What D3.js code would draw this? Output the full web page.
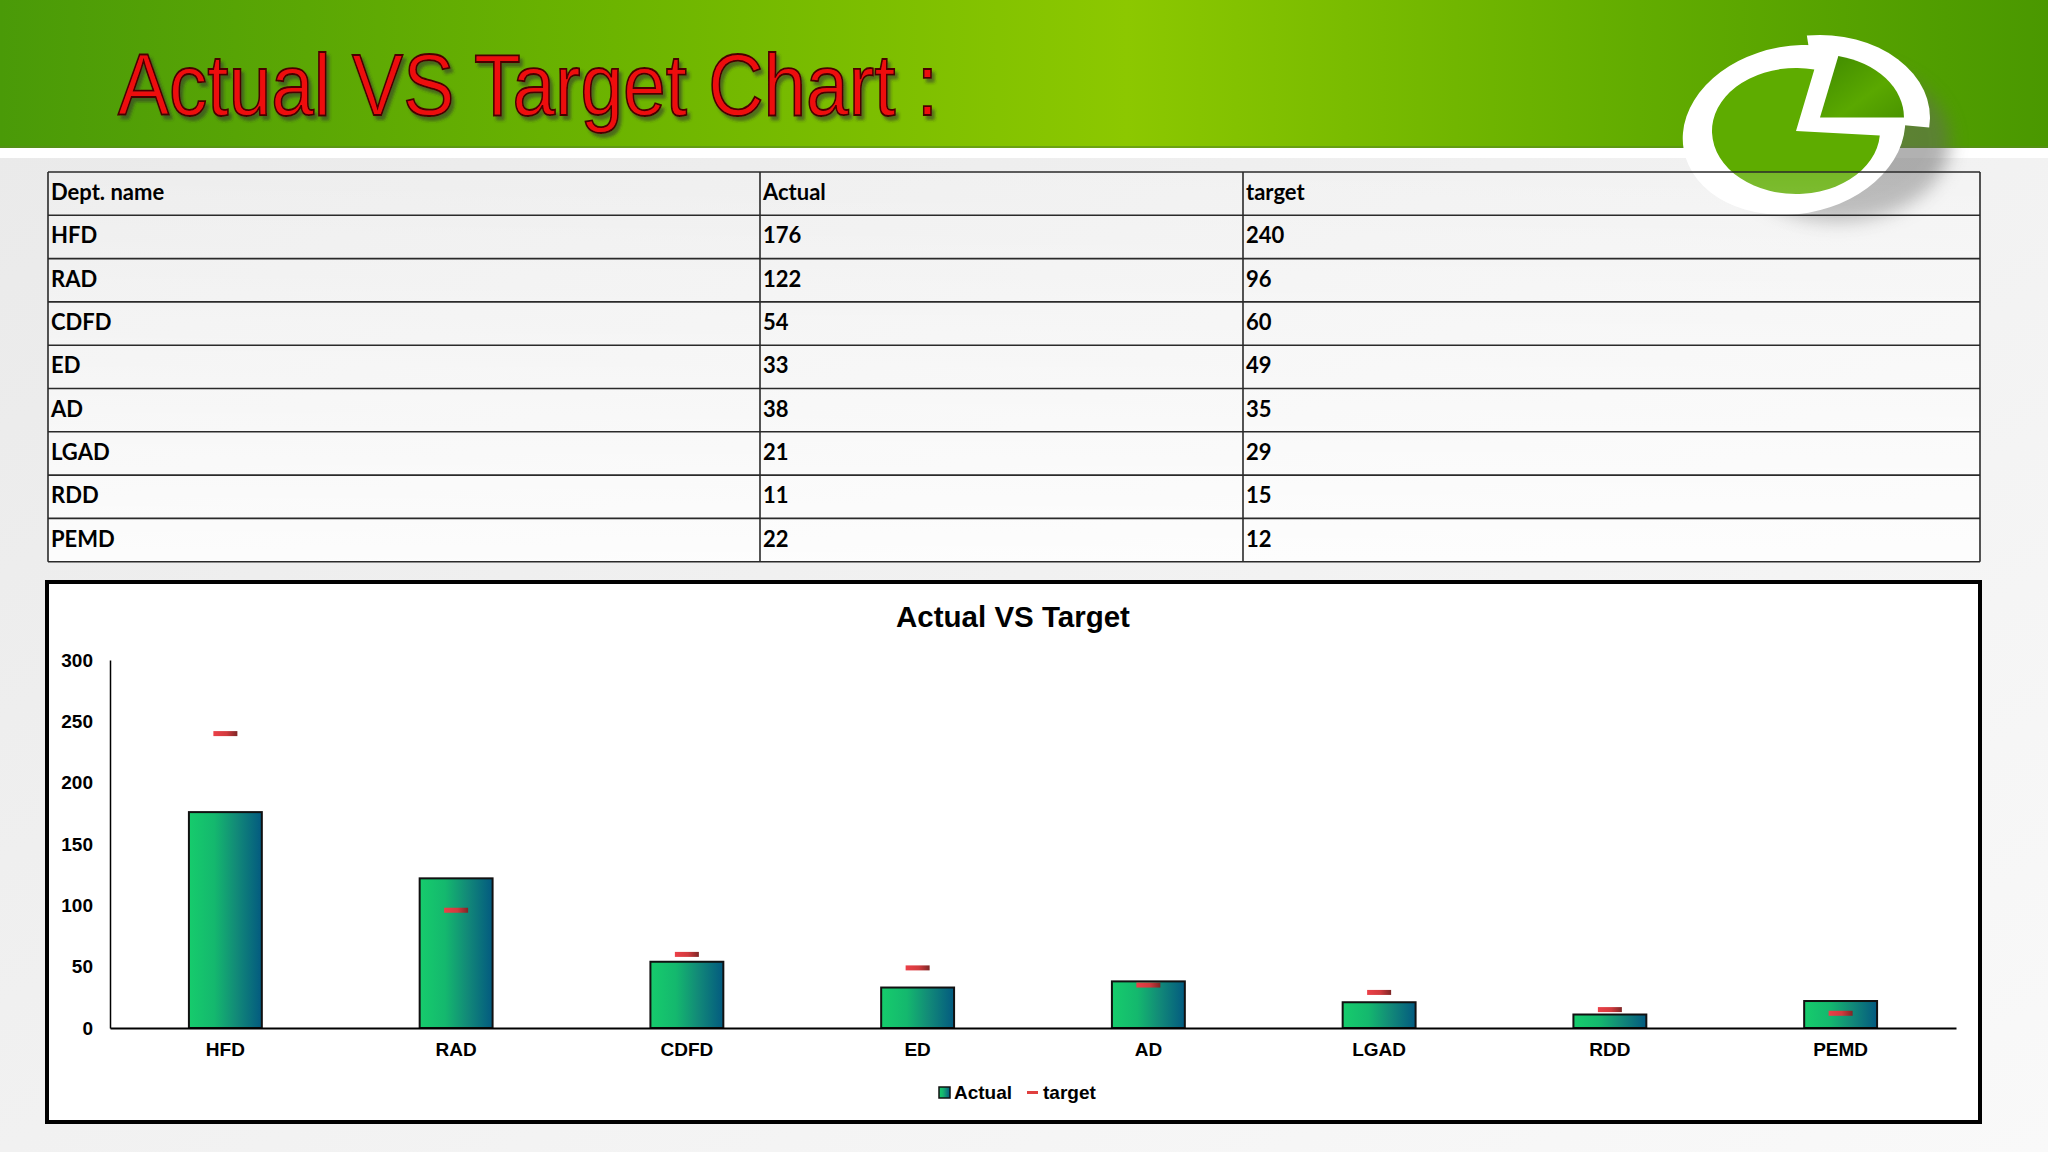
<!DOCTYPE html>
<html><head><meta charset="utf-8">
<script src="https://cdn.jsdelivr.net/npm/d3@7"></script>
<style>html,body{margin:0;padding:0;background:#f2f2f2;}svg{display:block;}</style>
</head><body>
<svg id="c" width="2048" height="1152"></svg>
<script>
const categories = ["HFD","RAD","CDFD","ED","AD","LGAD","RDD","PEMD"];
const actual = [176,122,54,33,38,21,11,22];
const target = [240,96,60,49,35,29,15,12];
const yTicks = [0,50,100,150,200,250,300];
const tableHeader = ["Dept. name","Actual","target"];
const pageTitle = "Actual VS Target Chart :";
const chartTitle = "Actual VS Target";
const seriesNames = ["Actual","target"];

const svg = d3.select("#c");
const defs = svg.append("defs");

// gradients
const bg = defs.append("linearGradient").attr("id","bg").attr("x1",0).attr("y1",0).attr("x2",1).attr("y2",1);
bg.append("stop").attr("offset","0%").attr("stop-color","#e9e9e9");
bg.append("stop").attr("offset","100%").attr("stop-color","#f9f9f9");
const hg = defs.append("linearGradient").attr("id","hg").attr("x1",0).attr("y1",0).attr("x2",1).attr("y2",0);
hg.append("stop").attr("offset","0%").attr("stop-color","#4a9a08");
hg.append("stop").attr("offset","30%").attr("stop-color","#6cb400");
hg.append("stop").attr("offset","55%").attr("stop-color","#8cc800");
hg.append("stop").attr("offset","80%").attr("stop-color","#62ac00");
hg.append("stop").attr("offset","100%").attr("stop-color","#4a9800");
const tbG = defs.append("linearGradient").attr("id","tbG").attr("x1",0).attr("y1",0).attr("x2",0).attr("y2",1);
tbG.append("stop").attr("offset","0%").attr("stop-color","#ffffff").attr("stop-opacity",0.15);
tbG.append("stop").attr("offset","100%").attr("stop-color","#ffffff").attr("stop-opacity",0.85);
const barG = defs.append("linearGradient").attr("id","barG").attr("x1",0).attr("y1",0).attr("x2",1).attr("y2",0);
barG.append("stop").attr("offset","0%").attr("stop-color","#16cc6c");
barG.append("stop").attr("offset","35%").attr("stop-color","#14b86e");
barG.append("stop").attr("offset","65%").attr("stop-color","#128a78");
barG.append("stop").attr("offset","100%").attr("stop-color","#035a80");
const tG = defs.append("linearGradient").attr("id","tG").attr("x1",0).attr("y1",0).attr("x2",1).attr("y2",0);
tG.append("stop").attr("offset","0%").attr("stop-color","#ec4048");
tG.append("stop").attr("offset","55%").attr("stop-color","#d23a3e");
tG.append("stop").attr("offset","100%").attr("stop-color","#7e2626");
const wG = defs.append("linearGradient").attr("id","wG").attr("x1",0).attr("y1",0).attr("x2",1).attr("y2",1);
wG.append("stop").attr("offset","0%").attr("stop-color","#3f8a00");
wG.append("stop").attr("offset","60%").attr("stop-color","#5aa800");
wG.append("stop").attr("offset","100%").attr("stop-color","#4a9400");
const sh = defs.append("filter").attr("id","sh").attr("x","-10%").attr("y","-10%").attr("width","130%").attr("height","140%");
sh.append("feDropShadow").attr("dx",3).attr("dy",4).attr("stdDeviation",1.5).attr("flood-color","#333").attr("flood-opacity",0.55);
const blur = defs.append("filter").attr("id","blur").attr("x","-30%").attr("y","-30%").attr("width","160%").attr("height","160%");
blur.append("feGaussianBlur").attr("stdDeviation",9);

// page background
svg.append("rect").attr("width",2048).attr("height",1152).attr("fill","url(#bg)");
svg.append("rect").attr("width",2048).attr("height",148).attr("fill","url(#hg)");
svg.append("rect").attr("y",146).attr("width",2048).attr("height",2).attr("fill","#5a8a20").attr("opacity",0.6);
svg.append("rect").attr("y",148).attr("width",2048).attr("height",10).attr("fill","#ffffff");

// title
svg.append("text").attr("x",118).attr("y",115)
  .attr("font-family","'Liberation Sans', Arial, sans-serif").attr("font-size",88)
  .attr("textLength",820).attr("lengthAdjust","spacingAndGlyphs")
  .attr("fill","#ee1010").attr("stroke","#4a0000").attr("stroke-width",1.8)
  .attr("filter","url(#sh)").text(pageTitle);

// logo
const logo = svg.append("g");
logo.append("ellipse").attr("cx",1838).attr("cy",142).attr("rx",112).attr("ry",80).attr("fill","#666").attr("opacity",0.5).attr("filter","url(#blur)");
logo.append("ellipse").attr("cx",1794).attr("cy",130).attr("rx",112).attr("ry",84)
  .attr("transform","rotate(-10,1794,130)").attr("fill","#ffffff");
const lg = logo.append("g").attr("transform","translate(1796,131) scale(1,0.75)");
const arc = d3.arc().innerRadius(0);
lg.append("path").attr("transform","translate(24,-18)")
  .attr("d",arc({outerRadius:110,startAngle:-0.12,endAngle:Math.PI/2+0.12})).attr("fill","#ffffff");
lg.append("path").attr("transform","rotate(4)")
  .attr("d",arc({outerRadius:84,startAngle:Math.PI/2,endAngle:2*Math.PI+0.15})).attr("fill","#5eac00");
lg.append("path").attr("transform","translate(24,-18)")
  .attr("d",arc({outerRadius:84,startAngle:0.22,endAngle:Math.PI/2})).attr("fill","url(#wG)");

// table
const tX = [48,760,1243,1980];
const tTop = 172, rowH = 43.3;
const rows = categories.map((c,i)=>[c, String(actual[i]), String(target[i])]);
const allRows = [tableHeader, ...rows];
const tbl = svg.append("g");
tbl.append("rect").attr("x",tX[0]).attr("y",tTop).attr("width",tX[3]-tX[0]).attr("height",allRows.length*rowH)
  .attr("fill","url(#tbG)");
allRows.forEach((r,i)=>{
  r.forEach((t,j)=>{
    tbl.append("text").attr("x",tX[j]+3).attr("y",tTop+i*rowH+rowH/2+6.5)
      .attr("font-family","Lato, 'Open Sans', sans-serif").attr("font-weight","bold").attr("font-size",22)
      .attr("fill","#000").text(t);
  });
});
for(let i=0;i<=allRows.length;i++){
  tbl.append("line").attr("x1",tX[0]).attr("x2",tX[3]).attr("y1",tTop+i*rowH).attr("y2",tTop+i*rowH)
    .attr("stroke","#2a2a2a").attr("stroke-width",1.6);
}
tX.forEach(x=>tbl.append("line").attr("x1",x).attr("x2",x).attr("y1",tTop).attr("y2",tTop+allRows.length*rowH)
  .attr("stroke","#2a2a2a").attr("stroke-width",1.6));

// chart box
svg.append("rect").attr("x",47).attr("y",582).attr("width",1933).attr("height",540)
  .attr("fill","#ffffff").attr("stroke","#000").attr("stroke-width",4);
svg.append("text").attr("x",1013).attr("y",627).attr("text-anchor","middle")
  .attr("font-family","'Liberation Sans', Arial, sans-serif").attr("font-weight","bold").attr("font-size",29.5)
  .text(chartTitle);

const x = d3.scaleBand().domain(categories).range([110,1956]).paddingInner(0.684).paddingOuter(0.342);
const y = d3.scaleLinear().domain([0,300]).range([1028,660]);
const font = "'Liberation Sans', Arial, sans-serif";

const yAx = svg.append("g").attr("transform","translate(110,0)")
  .call(d3.axisLeft(y).tickValues(yTicks).tickSize(0).tickPadding(17));
yAx.select(".domain").attr("stroke","#000").attr("stroke-width",1.5);
yAx.selectAll("text").attr("font-family",font).attr("font-weight","bold").attr("font-size",19).attr("fill","#000");

svg.append("g").selectAll("rect").data(categories).join("rect")
  .attr("x",d=>x(d)).attr("width",x.bandwidth())
  .attr("y",(d,i)=>y(actual[i])).attr("height",(d,i)=>y(0)-y(actual[i]))
  .attr("fill","url(#barG)").attr("stroke","#111").attr("stroke-width",2);

const xAx = svg.append("g").attr("transform","translate(0,1028)")
  .call(d3.axisBottom(x).tickSize(0).tickPadding(15));
xAx.select(".domain").attr("stroke","#000").attr("stroke-width",2);
xAx.selectAll("text").attr("font-family",font).attr("font-weight","bold").attr("font-size",19).attr("fill","#000");

svg.append("g").selectAll("rect").data(categories).join("rect")
  .attr("x",d=>x(d)+x.bandwidth()/2-12).attr("width",24)
  .attr("y",(d,i)=>y(target[i])-2.5).attr("height",5)
  .attr("fill","url(#tG)");

// legend
const leg = svg.append("g");
leg.append("rect").attr("x",939).attr("y",1087).attr("width",11).attr("height",11)
  .attr("fill","url(#barG)").attr("stroke","#111").attr("stroke-width",1.5);
leg.append("text").attr("x",954).attr("y",1099).attr("font-family",font).attr("font-weight","bold").attr("font-size",19).text(seriesNames[0]);
leg.append("rect").attr("x",1027).attr("y",1091).attr("width",11).attr("height",3).attr("fill","#e0403f");
leg.append("text").attr("x",1043).attr("y",1099).attr("font-family",font).attr("font-weight","bold").attr("font-size",19).text(seriesNames[1]);
</script>
</body></html>
